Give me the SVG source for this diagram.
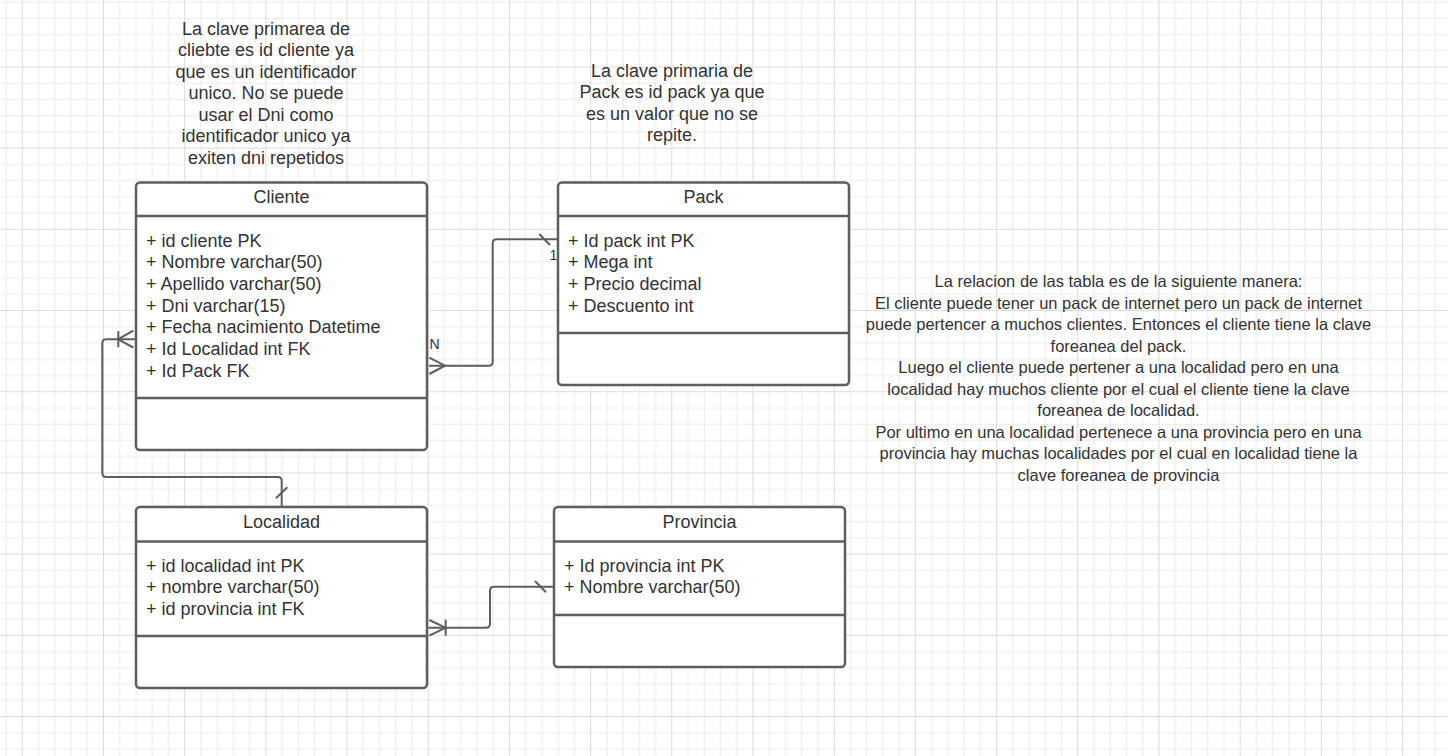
<svg xmlns="http://www.w3.org/2000/svg" width="1448" height="756" viewBox="0 0 1448 756">
<defs>
<pattern id="grid" patternUnits="userSpaceOnUse" x="21.8" y="66.5" width="81.19" height="81.19">
<rect width="81.19" height="81.19" fill="#ffffff"/>
<path d="M16.74 0V81.19M32.98 0V81.19M49.21 0V81.19M65.45 0V81.19M0 16.74H81.19M0 32.98H81.19M0 49.21H81.19M0 65.45H81.19" stroke="#ebebeb" stroke-width="1" fill="none"/>
<path d="M0.5 0V81.19M0 0.5H81.19" stroke="#dcdcdc" stroke-width="1" fill="none"/>
</pattern>
<style>
.box{fill:#ffffff;stroke:#5e5e5e;stroke-width:2.5}
.div{stroke:#5e5e5e;stroke-width:2.5;fill:none}
.t{font-family:"Liberation Sans",Arial,sans-serif;font-size:18px;fill:#333333}
.s{font-size:16.5px}
.c{text-anchor:middle}
.lbl{font-family:"Liberation Sans",Arial,sans-serif;font-size:14px;fill:#333333}
.con{fill:none;stroke:#5e5e5e;stroke-width:2}
</style>
</defs>
<rect width="1448" height="756" fill="url(#grid)"/>

<g id="note-cliente">
<text class="t c" x="266" y="34.5">La clave primarea de</text>
<text class="t c" x="266" y="56">cliebte es id cliente ya</text>
<text class="t c" x="266" y="77.5">que es un identificador</text>
<text class="t c" x="266" y="99">unico. No se puede</text>
<text class="t c" x="266" y="120.5">usar el Dni como</text>
<text class="t c" x="266" y="142">identificador unico ya</text>
<text class="t c" x="266" y="163.5">exiten dni repetidos</text>
</g>

<g id="note-pack">
<text class="t c" x="672" y="76.5">La clave primaria de</text>
<text class="t c" x="672" y="98">Pack es id pack ya que</text>
<text class="t c" x="672" y="119.5">es un valor que no se</text>
<text class="t c" x="672" y="141">repite.</text>
</g>

<g id="note-relacion">
<text class="t s c" x="1118.5" y="287">La relacion de las tabla es de la siguiente manera:</text>
<text class="t s c" x="1118.5" y="308.5">El cliente puede tener un pack de internet pero un pack de internet</text>
<text class="t s c" x="1118.5" y="330">puede pertencer a muchos clientes. Entonces el cliente tiene la clave</text>
<text class="t s c" x="1118.5" y="351.5">foreanea del pack.</text>
<text class="t s c" x="1118.5" y="373">Luego el cliente puede pertener a una localidad pero en una</text>
<text class="t s c" x="1118.5" y="394.5">localidad hay muchos cliente por el cual el cliente tiene la clave</text>
<text class="t s c" x="1118.5" y="416">foreanea de localidad.</text>
<text class="t s c" x="1118.5" y="437.5">Por ultimo en una localidad pertenece a una provincia pero en una</text>
<text class="t s c" x="1118.5" y="459">provincia hay muchas localidades por el cual en localidad tiene la</text>
<text class="t s c" x="1118.5" y="480.5">clave foreanea de provincia</text>
</g>

<g id="connectors">
<!-- Cliente (N) to Pack (1) -->
<path class="con" d="M429 365.7H488.7Q492.7 365.7 492.7 361.7V243.3Q492.7 239.3 496.7 239.3H557.5"/>
<path class="con" d="M429.3 357.7L445 365.7L429.3 374"/>
<path class="con" d="M539.3 234L550 245"/>
<text class="lbl" x="429.5" y="349.3">N</text>
<text class="lbl" x="549.5" y="260">1</text>
<!-- Localidad to Cliente -->
<path class="con" d="M281.7 507V481Q281.7 477 277.7 477H106.3Q102.3 477 102.3 473V343.3Q102.3 339.3 106.3 339.3H135"/>
<path class="con" d="M133.3 330.7L118 339.3L133.3 347.5"/>
<path class="con" d="M118.3 331.2V347.2"/>
<path class="con" d="M276 498.3L287.3 487.3"/>
<!-- Localidad to Provincia -->
<path class="con" d="M428.5 627.7H486Q490 627.7 490 623.7V590.7Q490 586.7 494 586.7H553"/>
<path class="con" d="M429.3 620L445.7 627.7L429.3 635.7"/>
<path class="con" d="M445.7 619.7V635.7"/>
<path class="con" d="M535 581L546 592.3"/>
</g>

<g id="cliente">
<rect class="box" x="136" y="182.5" width="291" height="267.5" rx="4"/>
<path class="div" d="M136 216H427M136 398H427"/>
<text class="t c" x="281.5" y="203">Cliente</text>
<text class="t" x="146" y="246.5">+ id cliente PK</text>
<text class="t" x="146" y="268.2">+ Nombre varchar(50)</text>
<text class="t" x="146" y="289.9">+ Apellido varchar(50)</text>
<text class="t" x="146" y="311.6">+ Dni varchar(15)</text>
<text class="t" x="146" y="333.3">+ Fecha nacimiento Datetime</text>
<text class="t" x="146" y="355">+ Id Localidad int FK</text>
<text class="t" x="146" y="376.7">+ Id Pack FK</text>
</g>

<g id="pack">
<rect class="box" x="558" y="182.5" width="291" height="202.5" rx="4"/>
<path class="div" d="M558 216H849M558 333H849"/>
<text class="t c" x="703.5" y="203">Pack</text>
<text class="t" x="568" y="246.5">+ Id pack int PK</text>
<text class="t" x="568" y="268.2">+ Mega int</text>
<text class="t" x="568" y="289.9">+ Precio decimal</text>
<text class="t" x="568" y="311.6">+ Descuento int</text>
</g>

<g id="localidad">
<rect class="box" x="136" y="507" width="291" height="181" rx="4"/>
<path class="div" d="M136 541.5H427M136 636H427"/>
<text class="t c" x="281.5" y="528">Localidad</text>
<text class="t" x="146" y="571.5">+ id localidad int PK</text>
<text class="t" x="146" y="593.2">+ nombre varchar(50)</text>
<text class="t" x="146" y="614.9">+ id provincia int FK</text>
</g>

<g id="provincia">
<rect class="box" x="554" y="507" width="291" height="160" rx="4"/>
<path class="div" d="M554 541.5H845M554 615H845"/>
<text class="t c" x="699.5" y="528">Provincia</text>
<text class="t" x="564" y="571.5">+ Id provincia int PK</text>
<text class="t" x="564" y="593.2">+ Nombre varchar(50)</text>
</g>
</svg>
